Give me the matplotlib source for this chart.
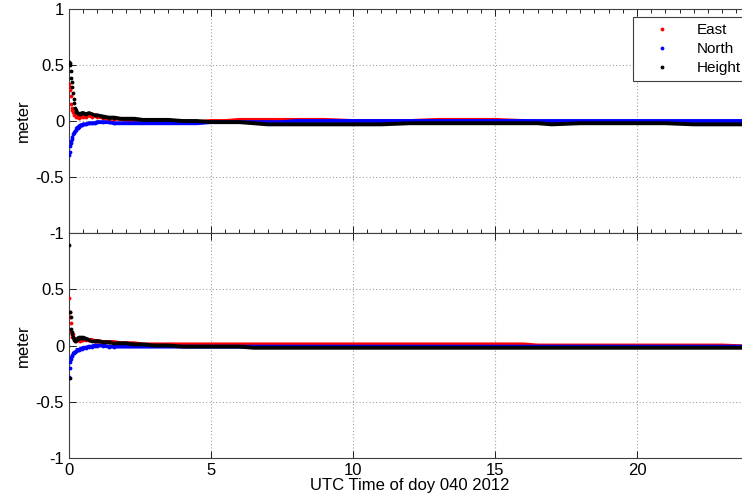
import numpy as np
import matplotlib
matplotlib.use("Agg")
import matplotlib.pyplot as plt
from matplotlib.ticker import MultipleLocator

plt.rcParams['font.family'] = ['Liberation Sans', 'DejaVu Sans']

# Epoch times (hours of day)
t_hours = [0.00, 0.02, 0.04, 0.06, 0.08, 0.10, 0.12, 0.14, 0.16, 0.18,
           0.20, 0.23, 0.26, 0.30, 0.35, 0.40, 0.45, 0.50, 0.60, 0.70,
           0.80, 0.90, 1.00, 1.20, 1.40, 1.60, 1.80, 2.00, 2.30, 2.60,
           3.00, 3.50, 4.00, 4.50, 5.00, 5.50, 6.00, 6.50, 7.00, 7.50,
           8.00, 9.00, 10.0, 11.0, 12.0, 13.0, 14.0, 15.0, 16.0, 16.5,
           17.0, 18.0, 19.0, 20.0, 21.0, 22.0, 23.0, 24.0]

# Upper panel: position errors (m)
east_top = [0.33, 0.28, 0.30, 0.22, 0.15, 0.12, 0.10, 0.08, 0.07, 0.05,
            0.06, 0.04, 0.05, 0.04, 0.03, 0.04, 0.05, 0.04, 0.04, 0.05,
            0.04, 0.05, 0.04, 0.03, 0.02, 0.02, 0.02, 0.01, 0.01, 0.00,
            0.00, -0.01, -0.01, -0.01, 0.00, 0.00, 0.01, 0.01, 0.01, 0.01,
            0.01, 0.01, 0.00, 0.00, 0.00, 0.01, 0.01, 0.01, 0.00, -0.01,
            -0.01, -0.01, -0.01, -0.01, -0.01, -0.01, -0.01, -0.01]
north_top = [-0.30, -0.28, -0.22, -0.20, -0.18, -0.16, -0.14, -0.12, -0.11, -0.10,
             -0.09, -0.08, -0.07, -0.06, -0.05, -0.04, -0.04, -0.03, -0.03, -0.02,
             -0.02, -0.02, -0.01, -0.01, -0.01, -0.02, -0.02, -0.02, -0.02, -0.02,
             -0.02, -0.02, -0.02, -0.02, -0.01, -0.01, -0.01, -0.01, -0.01, -0.01,
             0.00, 0.00, 0.00, 0.00, 0.00, 0.00, 0.00, 0.00, 0.00, 0.00,
             0.00, 0.00, 0.00, 0.00, 0.00, 0.00, 0.00, 0.00]
height_top = [0.53, 0.50, 0.52, 0.45, 0.38, 0.35, 0.30, 0.25, 0.20, 0.16,
              0.12, 0.10, 0.08, 0.07, 0.06, 0.06, 0.07, 0.07, 0.06, 0.07,
              0.06, 0.05, 0.05, 0.04, 0.03, 0.03, 0.02, 0.02, 0.02, 0.01,
              0.01, 0.01, 0.00, 0.00, -0.01, -0.01, -0.01, -0.02, -0.03, -0.03,
              -0.03, -0.03, -0.03, -0.03, -0.02, -0.02, -0.02, -0.02, -0.02, -0.02,
              -0.03, -0.02, -0.02, -0.02, -0.02, -0.03, -0.03, -0.03]

# Lower panel: position errors (m)
east_bot = [0.42, 0.30, 0.25, 0.20, 0.12, 0.10, 0.08, 0.10, 0.07, 0.06,
            0.05, 0.05, 0.04, 0.05, 0.05, 0.04, 0.05, 0.05, 0.05, 0.05,
            0.05, 0.04, 0.04, 0.03, 0.03, 0.03, 0.02, 0.02, 0.02, 0.01,
            0.01, 0.01, 0.01, 0.01, 0.01, 0.01, 0.01, 0.01, 0.01, 0.01,
            0.01, 0.01, 0.01, 0.01, 0.01, 0.01, 0.01, 0.01, 0.01, 0.00,
            0.00, 0.00, 0.00, 0.00, 0.00, 0.00, 0.00, -0.01]
north_bot = [-0.28, -0.20, -0.15, -0.12, -0.10, -0.09, -0.08, -0.07, -0.07, -0.06,
             -0.06, -0.05, -0.05, -0.04, -0.04, -0.03, -0.03, -0.02, -0.02, -0.01,
             -0.01, 0.00, 0.00, 0.00, -0.01, -0.01, -0.01, -0.01, -0.01, -0.01,
             -0.01, -0.01, -0.01, -0.01, -0.01, -0.01, -0.01, -0.01, -0.01, -0.01,
             -0.01, -0.01, -0.01, -0.01, -0.01, -0.01, -0.01, -0.01, -0.01, -0.01,
             -0.01, -0.01, -0.01, -0.01, -0.01, -0.01, -0.01, -0.01]
height_bot = [0.89, 0.30, -0.29, 0.25, 0.15, 0.12, 0.10, 0.08, 0.06, 0.05,
              0.04, 0.05, 0.05, 0.06, 0.07, 0.07, 0.07, 0.07, 0.06, 0.05,
              0.04, 0.04, 0.04, 0.03, 0.03, 0.02, 0.02, 0.02, 0.01, 0.01,
              0.00, 0.00, -0.01, -0.01, -0.01, -0.01, -0.01, -0.02, -0.02, -0.02,
              -0.02, -0.02, -0.02, -0.02, -0.02, -0.02, -0.02, -0.02, -0.02, -0.02,
              -0.02, -0.02, -0.02, -0.02, -0.02, -0.02, -0.02, -0.02]

series_names = ["East", "North", "Height"]
series_colors = ["#ff0000", "#0000ff", "#000000"]
y_ticks = [-1, -0.5, 0, 0.5, 1]
x_ticks = [0, 5, 10, 15, 20]

W, H = 742, 501
fig = plt.figure(figsize=(W / 100, H / 100), dpi=100)
left = 69 / W
width = 24 * 28.4 / W
ax1 = fig.add_axes([left, 1 - 233 / H, width, 224 / H])
ax2 = fig.add_axes([left, 1 - 458 / H, width, 225 / H])

t = np.array(t_hours)
steady = t >= 0.3
transient = t <= 1.6
FS = 12


def draw_panel(ax, series):
    for vals, name, col in zip(series, series_names, series_colors):
        v = np.array(vals)
        ax.plot(t[steady], v[steady], '-', color=col, lw=2.8, zorder=2)
        ax.plot(t[transient], v[transient], '.', color=col, ms=3.5,
                zorder=3)
        ax.plot([], [], '.', color=col, ms=3.5, label=name)
    ax.set_xlim(0, 24)
    ax.set_ylim(-1, 1)
    ax.set_xticks(x_ticks)
    ax.set_yticks(y_ticks)
    ax.grid(True, color='#a0a0a0', linestyle=(0, (1, 2)), linewidth=0.8)
    ax.tick_params(direction='in', which='both', top=True, right=True,
                   labelsize=FS, colors='black', length=5, width=0.6)
    ax.tick_params(which='minor', length=3)
    for s in ax.spines.values():
        s.set_color('#404040')
        s.set_linewidth(0.8)
    ax.set_ylabel('meter', fontsize=FS)
    ax.yaxis.set_label_coords(-0.056, 0.5)


draw_panel(ax1, [east_top, north_top, height_top])
draw_panel(ax2, [east_bot, north_bot, height_bot])

ax1.set_yticklabels(['-1', '-0.5', '0', '0.5', '1'])
ax1.set_xticklabels([])
ax1.xaxis.set_minor_locator(MultipleLocator(0.5))
ax2.set_yticklabels(['-1', '-0.5', '0', '0.5', ''])
ax2.set_xticklabels([str(v) for v in x_ticks])
ax2.set_xlabel('UTC Time of doy 040 2012', fontsize=FS, labelpad=0)

leg = ax1.legend(loc='upper left', bbox_to_anchor=(633 / W, 1 - 17 / H),
                 bbox_transform=fig.transFigure, borderaxespad=0,
                 fancybox=False, framealpha=1, edgecolor='#404040',
                 fontsize=11, labelspacing=0.33, handlelength=3.0,
                 handletextpad=0.75, borderpad=0.4, markerscale=1.0)
leg.get_frame().set_linewidth(0.8)

fig.savefig('out.png', dpi=100)
